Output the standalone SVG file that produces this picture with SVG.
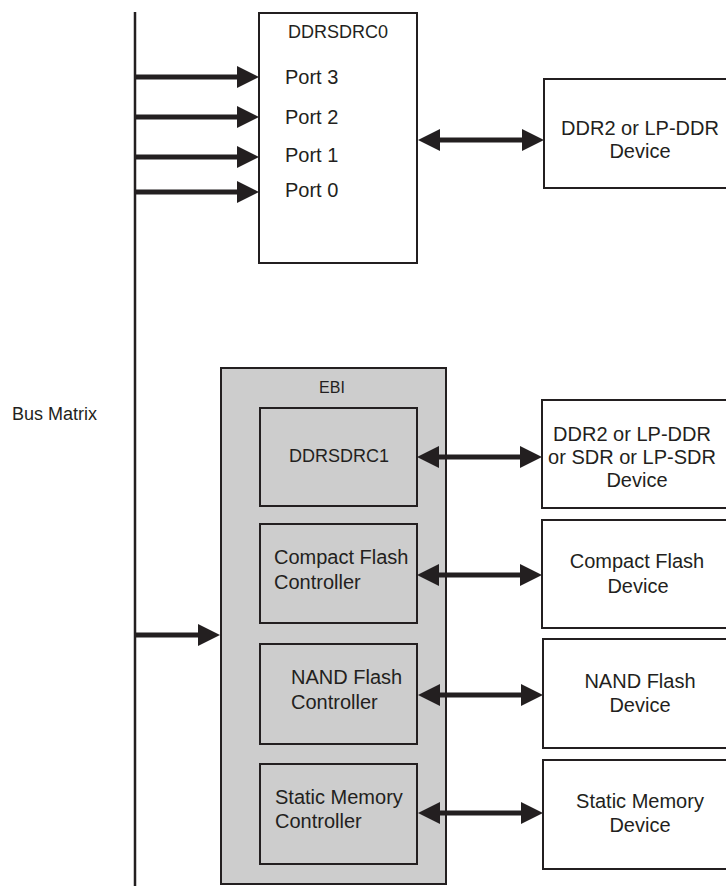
<svg xmlns="http://www.w3.org/2000/svg" width="726" height="886" viewBox="0 0 726 886">
<defs>
<style>
.box{fill:#ffffff;stroke:#231f20;stroke-width:2}
.gbox{fill:#cdcdcd;stroke:#231f20;stroke-width:2}
.t{font-family:"Liberation Sans",Arial,sans-serif;font-size:20px;fill:#231f20}
.s{font-size:18px}
.m{text-anchor:middle}
.bus{stroke:#231f20;stroke-width:2.5;fill:none}
.arr{stroke:#231f20;stroke-width:5;fill:none;marker-end:url(#ah)}
.bi{stroke:#231f20;stroke-width:5;fill:none;marker-end:url(#ah);marker-start:url(#ah)}
</style>
<marker id="ah" markerUnits="userSpaceOnUse" markerWidth="22" markerHeight="22" refX="12" refY="11" orient="auto-start-reverse" viewBox="0 0 22 22">
<path d="M0,0 L22,11 L0,22 z" fill="#231f20"/>
</marker>
</defs>

<g id="bus-matrix">
<line class="bus" x1="135" y1="12" x2="135" y2="886"/>
<text class="t s" x="12" y="420">Bus Matrix</text>
</g>

<g id="ddrsdrc0">
<rect class="box" x="259" y="13" width="158" height="250"/>
<text class="t s m" x="338" y="38">DDRSDRC0</text>
<text class="t" x="285" y="84">Port 3</text>
<text class="t" x="285" y="124">Port 2</text>
<text class="t" x="285" y="162">Port 1</text>
<text class="t" x="285" y="197">Port 0</text>
</g>

<g id="dev-ddr">
<rect class="box" x="544" y="79" width="190" height="109"/>
<text class="t m" x="640" y="135">DDR2 or LP-DDR</text>
<text class="t m" x="640" y="158">Device</text>
</g>

<g id="ebi">
<rect class="gbox" x="221" y="368" width="225" height="516"/>
<text class="t m" style="font-size:16px" x="332" y="393">EBI</text>
</g>

<g id="ddrsdrc1">
<rect class="gbox" x="260" y="408" width="157" height="98"/>
<text class="t s m" x="339" y="462">DDRSDRC1</text>
</g>

<g id="cf-ctrl">
<rect class="gbox" x="260" y="524" width="157" height="99"/>
<text class="t" x="274" y="564">Compact Flash</text>
<text class="t" x="274" y="589">Controller</text>
</g>

<g id="nand-ctrl">
<rect class="gbox" x="260" y="644" width="157" height="100"/>
<text class="t" x="291" y="684">NAND Flash</text>
<text class="t" x="291" y="709">Controller</text>
</g>

<g id="sm-ctrl">
<rect class="gbox" x="260" y="764" width="157" height="100"/>
<text class="t" x="275" y="804">Static Memory</text>
<text class="t" x="275" y="828">Controller</text>
</g>

<g id="dev-ddr-sdr">
<rect class="box" x="542" y="400" width="192" height="108"/>
<text class="t m" x="632" y="441">DDR2 or LP-DDR</text>
<text class="t m" x="632" y="464">or SDR or LP-SDR</text>
<text class="t m" x="637" y="487">Device</text>
</g>

<g id="dev-cf">
<rect class="box" x="542" y="520" width="192" height="108"/>
<text class="t m" x="637" y="568">Compact Flash</text>
<text class="t m" x="638" y="593">Device</text>
</g>

<g id="dev-nand">
<rect class="box" x="543" y="639" width="191" height="109"/>
<text class="t m" x="640" y="688">NAND Flash</text>
<text class="t m" x="640" y="712">Device</text>
</g>

<g id="dev-sm">
<rect class="box" x="543" y="760" width="191" height="109"/>
<text class="t m" x="640" y="808">Static Memory</text>
<text class="t m" x="640" y="832">Device</text>
</g>

<g id="connectors">
<line class="arr" x1="135" y1="77" x2="249" y2="77"/>
<line class="arr" x1="135" y1="117" x2="249" y2="117"/>
<line class="arr" x1="135" y1="157" x2="249" y2="157"/>
<line class="arr" x1="135" y1="192" x2="249" y2="192"/>
<line class="arr" x1="135" y1="635" x2="210" y2="635"/>
<line class="bi" x1="428" y1="140" x2="534" y2="140"/>
<line class="bi" x1="427" y1="457" x2="532" y2="457"/>
<line class="bi" x1="427" y1="575" x2="532" y2="575"/>
<line class="bi" x1="428" y1="695" x2="533" y2="695"/>
<line class="bi" x1="428" y1="813" x2="533" y2="813"/>
</g>
</svg>
